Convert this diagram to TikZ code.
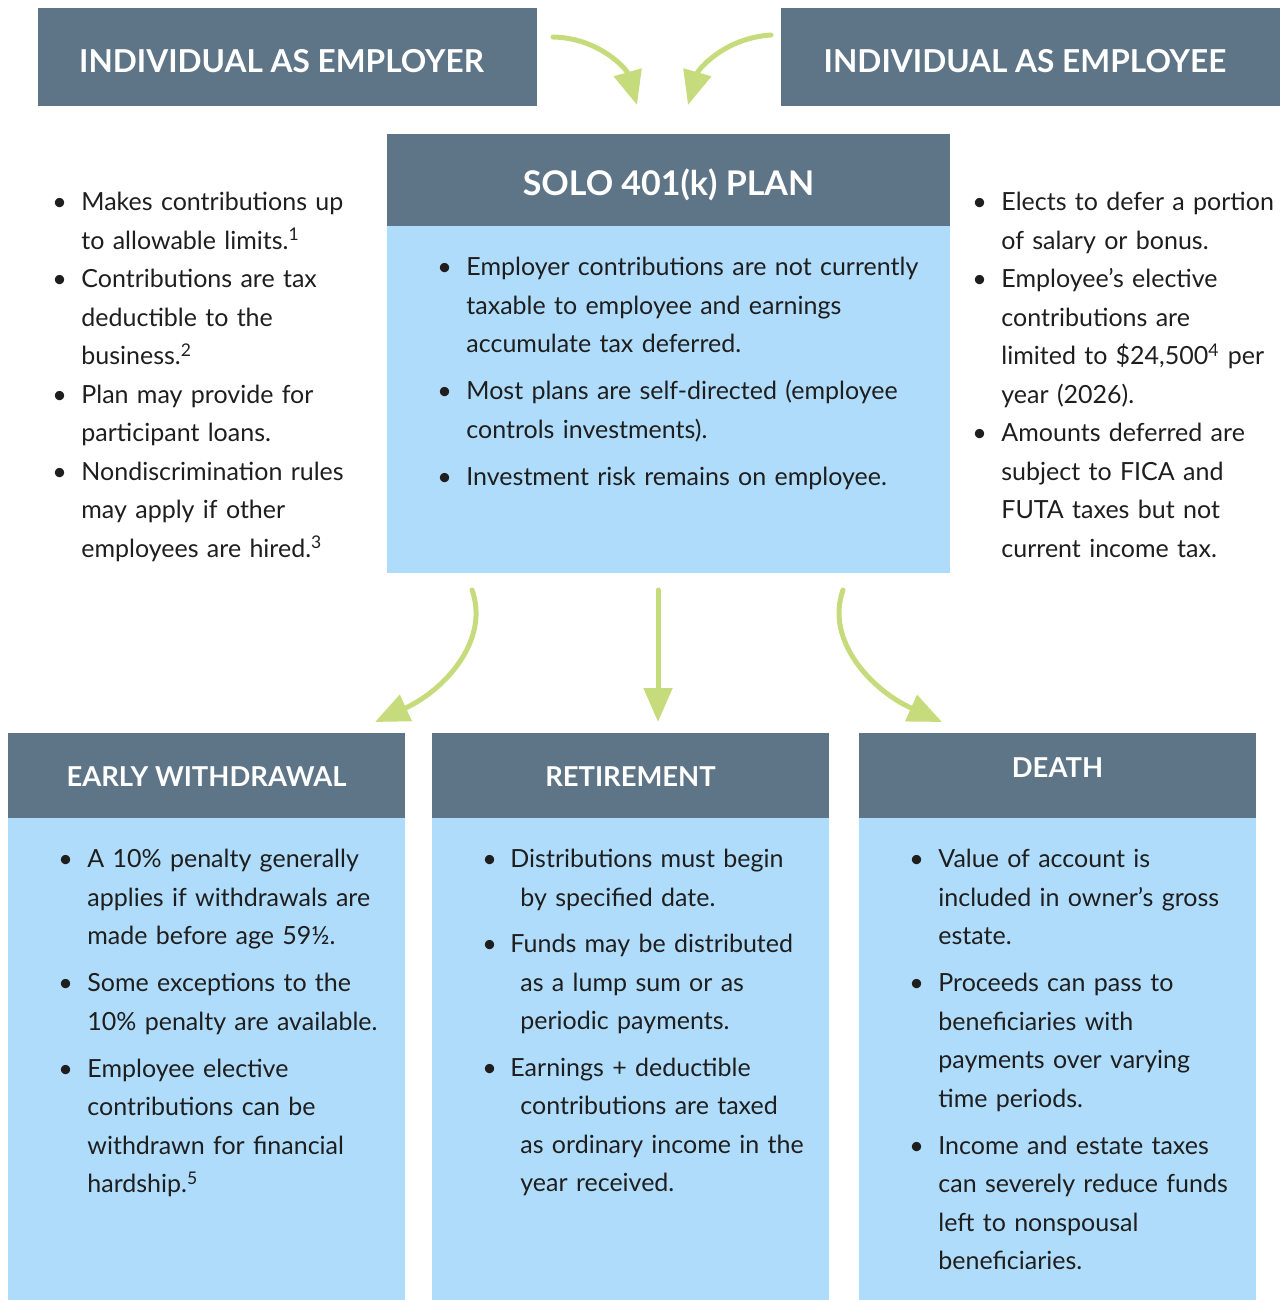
\documentclass[tikz,border=0pt]{standalone}
\usepackage{fontspec}
\setmainfont{Lato}
\usetikzlibrary{arrows.meta,positioning}
\definecolor{slate}{HTML}{5E7588}
\definecolor{skyblue}{HTML}{B0DCFB}
\definecolor{leaf}{HTML}{C6DC7C}
\definecolor{ink}{HTML}{1E1E1E}
\tikzstyle{head}=[fill=slate, text=white, inner sep=0pt, text depth=0pt, text height=10.8pt,
 font=\fontsize{13.7}{17}\selectfont\bfseries]
\tikzstyle{body}=[fill=skyblue, inner sep=0pt]
\tikzstyle{list}=[anchor=north west, inner sep=0pt, text width=200pt, text=ink,
 font=\fontsize{12.5}{19.25}\selectfont]
\tikzstyle{flow}=[draw=leaf, line width=2.5pt, line cap=round, -{Triangle[width=14pt,length=17pt]}]
\newcommand\bul{\par\noindent\hangindent=14.5pt\hangafter=1\strut\makebox[14.5pt][l]{\textbullet}}
\newcommand\bulr{\par\noindent\hangindent=19pt\hangafter=1\strut\makebox[14pt][l]{\textbullet}}
\newcommand\nl{\newline}

\begin{document}
\begin{tikzpicture}[x=0.5pt, y=-0.5pt]
	\useasboundingbox (0,0) rectangle (1280,1300);

		% Top headers
		\node[head, minimum width=249.5pt, minimum height=49pt, text height=15.3pt, font=\fontsize{15.8}{19}\selectfont\bfseries] (emp) at (287.5,57) {\hspace*{-6pt}INDIVIDUAL AS EMPLOYER};
		\node[head, minimum width=249.5pt, minimum height=49pt, text height=15.3pt, font=\fontsize{15.8}{19}\selectfont\bfseries] (ee) at (1030.5,57) {\hspace*{-5.5pt}INDIVIDUAL AS EMPLOYEE};
		% Plan box
		\node[head, minimum width=281.5pt, minimum height=46pt, text height=16pt, font=\fontsize{17}{19}\selectfont\bfseries] (plan) at (668.5,180) {SOLO 401(k) PLAN};
		\node[body, minimum width=281.5pt, minimum height=173.5pt] (planbody) at (668.5,399.5) {};
		% Outcome boxes
		\foreach \xpos/\lab/\txt/\th in {206.5/early/EARLY WITHDRAWAL/10.8pt, 630.5/ret/RETIREMENT/10.8pt, 1057.5/death/DEATH/1.8pt}
		{
		\node[head, minimum width=198.5pt, minimum height=42.5pt, text height=\th] (\lab) at (\xpos,775.5) {\txt};
		\node[body, minimum width=198.5pt, minimum height=241pt] (\lab body) at (\xpos,1059) {};
		}

		% Lists
		\node[list] (emplist) at (52,172) {
		\bul Makes contributions up\nl to allowable limits.\textsuperscript{1}
		\bul Contributions are tax\nl deductible to the\nl business.\textsuperscript{2}
		\bul Plan may provide for\nl participant loans.
		\bul Nondiscrimination rules\nl may apply if other\nl employees are hired.\textsuperscript{3}\par};
		\node[list] (eelist) at (972,172) {
		\bul Elects to defer a portion\nl of salary or bonus.
		\bul Employee’s elective\nl contributions are\nl limited to \$24,500\textsuperscript{4} per\nl year (2026).
		\bul Amounts deferred are\nl subject to FICA and\nl FUTA taxes but not\nl current income tax.\par};
		\node[list, text width=250pt] (planlist) at (437,228.5) {\parskip=4.25pt
		\bul Employer contributions are not currently\nl taxable to employee and earnings\nl accumulate tax deferred.
		\bul Most plans are self-directed (employee\nl controls investments).
		\bul Investment risk remains on employee.\par};
		\node[list] (earlylist) at (58,820.5) {\parskip=4.25pt
		\bul A 10\% penalty generally\nl applies if withdrawals are\nl made before age 59½.
		\bul Some exceptions to the\nl 10\% penalty are available.
		\bul Employee elective\nl contributions can be\nl withdrawn for financial\nl hardship.\textsuperscript{5}\par};
		\node[list] (retlist) at (482,821) {\parskip=4pt
		\bulr Distributions must begin\nl by specified date.
		\bulr Funds may be distributed\nl as a lump sum or as\nl periodic payments.
		\bulr Earnings + deductible\nl contributions are taxed\nl as ordinary income in the\nl year received.\par};
		\node[list] (deathlist) at (909,820.5) {\parskip=4.25pt
		\bul Value of account is\nl included in owner’s gross\nl estate.
		\bul Proceeds can pass to\nl beneficiaries with\nl payments over varying\nl time periods.
		\bul Income and estate taxes\nl can severely reduce funds\nl left to nonspousal\nl beneficiaries.\par};

		% Arrows
		\coordinate (a1) at (553,37);
		\coordinate (a2) at (771,35);
		\coordinate (b1) at (472,590);
		\coordinate (b2) at (658,590);
		\coordinate (b3) at (843,590);
		\draw[flow] (a1) .. controls (600,38) and (627,70) .. (637,105);
		\draw[flow] (a2) .. controls (724,38) and (698,70) .. (688,105);
		\draw[flow] (b1) .. controls (490,640) and (445,690) .. (375,722);
		\draw[flow] (b2) -- (658,722);
		\draw[flow] (b3) .. controls (825,640) and (871,690) .. (942,722);
\end{tikzpicture}
\end{document}
